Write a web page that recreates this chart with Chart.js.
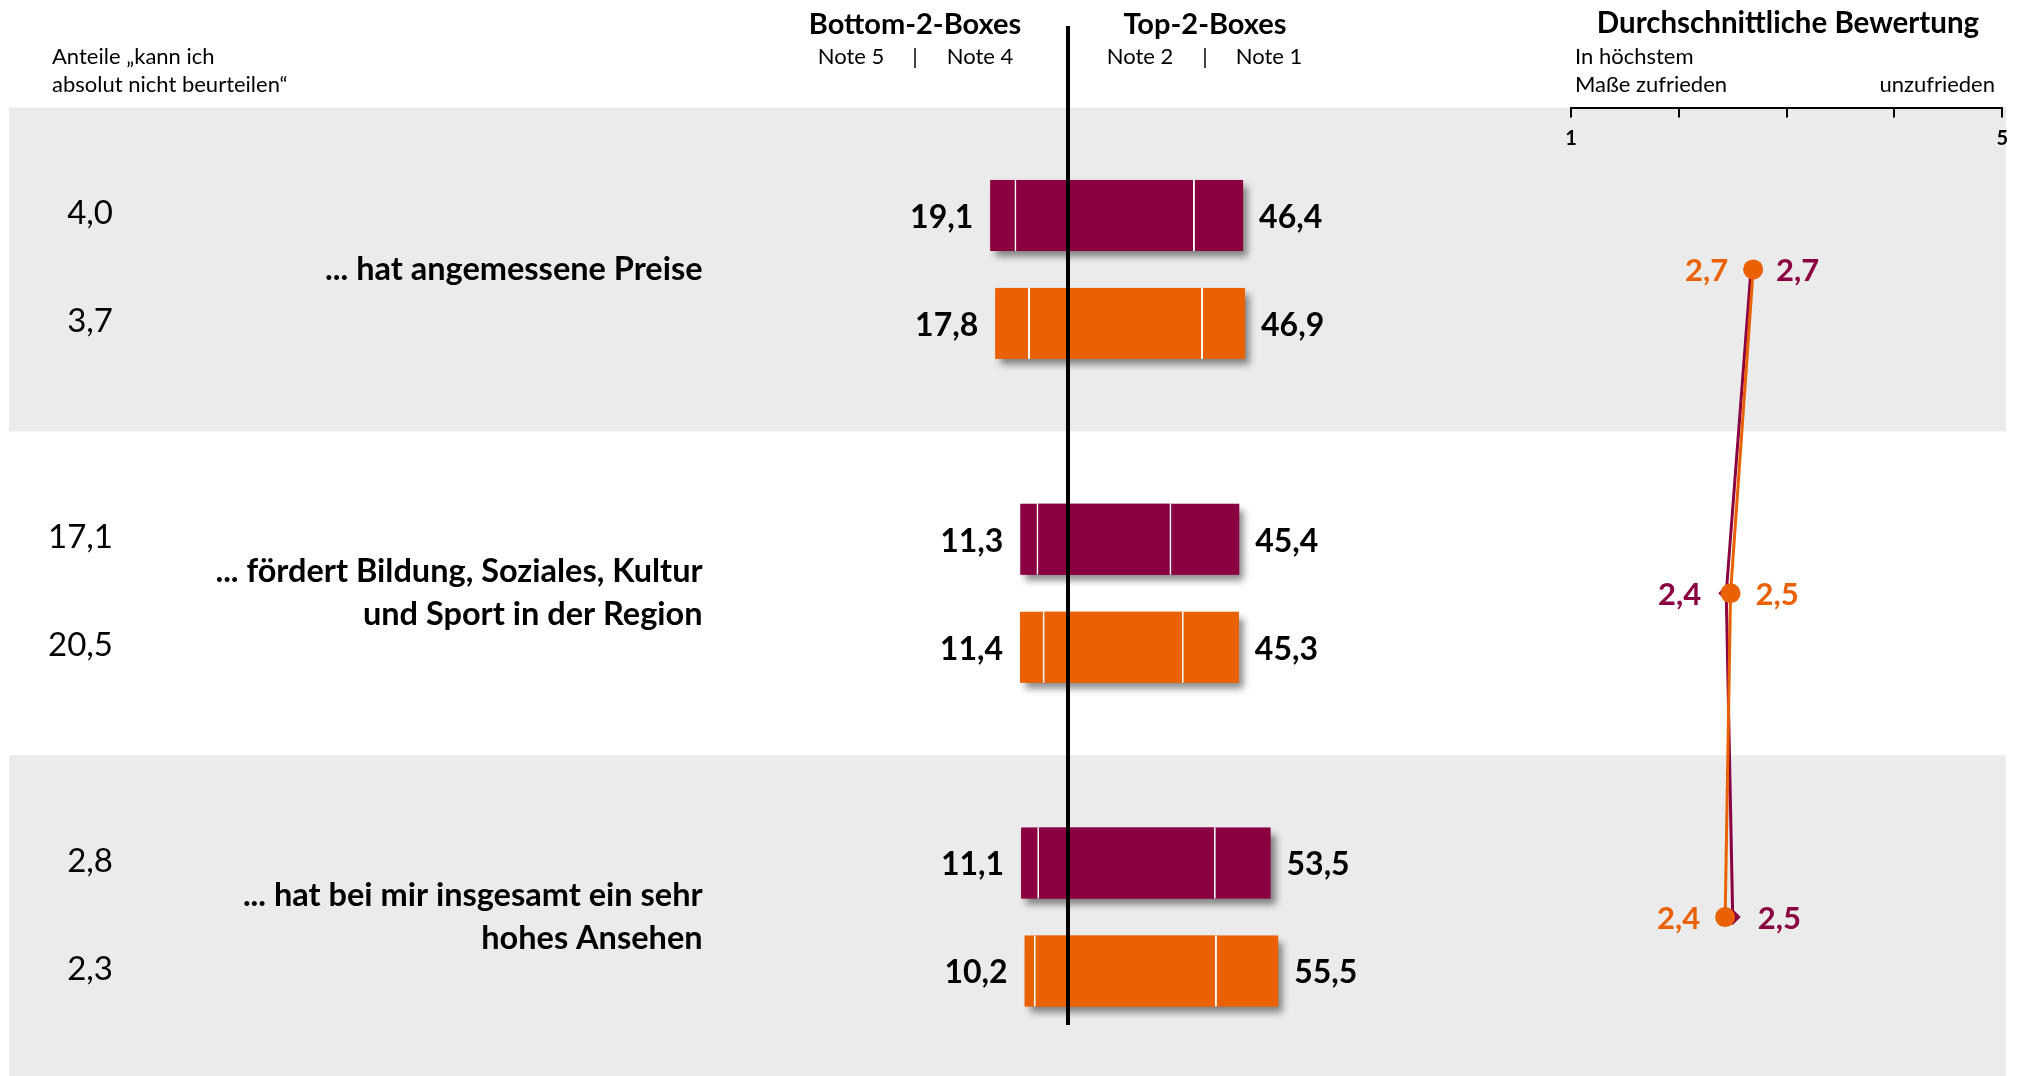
<!DOCTYPE html>
<html>
<head>
<meta charset="utf-8">
<script src="https://cdn.jsdelivr.net/npm/chart.js@4.4.1/dist/chart.umd.min.js"></script>
<style>
  html, body { margin: 0; padding: 0; background: #fff; overflow: hidden; }
  body { width: 2027px; height: 1076px; position: relative; font-family: Lato, sans-serif; color: #000; }
  .wrap { position: absolute; left: 0; top: 0; width: 2027px; height: 1080px; }
  .t { position: absolute; white-space: nowrap; line-height: 1; }
  .c { transform: translate(-50%, -50%); }
  .l { transform: translate(0, -50%); }
  .r { transform: translate(-100%, -50%); }
  .h { font-weight: bold; font-size: 29px; }
  .s { font-size: 22px; }
  #zeroLine { position: absolute; left: 1066px; top: 26px; width: 4px; height: 999px; background: #000; }
</style>
</head>
<body>
<div class="wrap"><canvas id="bars"></canvas></div>
<div id="zeroLine"></div>
<div class="wrap"><canvas id="rating"></canvas></div>

<div class="t l s" style="left:52px;top:56px">Anteile „kann ich</div>
<div class="t l s" style="left:52px;top:84px">absolut nicht beurteilen“</div>

<div class="t c h" style="left:915px;top:22px">Bottom-2-Boxes</div>
<div class="t c s" style="left:851px;top:56px">Note 5</div>
<div class="t c s" style="left:915px;top:56px">|</div>
<div class="t c s" style="left:980px;top:56px">Note 4</div>

<div class="t c h" style="left:1205px;top:22px">Top-2-Boxes</div>
<div class="t c s" style="left:1140px;top:56px">Note 2</div>
<div class="t c s" style="left:1205px;top:56px">|</div>
<div class="t c s" style="left:1269px;top:56px">Note 1</div>

<div class="t c h" style="left:1788px;top:22px;font-size:29.5px">Durchschnittliche Bewertung</div>
<div class="t l s" style="left:1575px;top:56px">In höchstem</div>
<div class="t l s" style="left:1575px;top:84px">Maße zufrieden</div>
<div class="t r s" style="left:1995px;top:84px">unzufrieden</div>

<script>
// statements (y categories)
var statements = [
  ['... hat angemessene Preise'],
  ['... fördert Bildung, Soziales, Kultur', 'und Sport in der Region'],
  ['... hat bei mir insgesamt ein sehr', 'hohes Ansehen']
];

// share "kann ich absolut nicht beurteilen" - purple row / orange row
var cannotJudgeA = [4.0, 17.1, 2.8];
var cannotJudgeB = [3.7, 20.5, 2.3];

// grade shares, purple series
var note5A = [6.8, 4.7, 4.7];
var note4A = [12.3, 6.6, 6.4];
var note2A = [33.4, 27.3, 38.8];
var note1A = [13.0, 18.1, 14.7];
// grade shares, orange series
var note5B = [9.0, 6.4, 2.9];
var note4B = [8.8, 5.0, 7.3];
var note2B = [35.5, 30.5, 39.1];
var note1B = [11.4, 14.8, 16.4];

// average rating (1 = best, 5 = worst)
var meanA = [2.67, 2.44, 2.50];
var meanB = [2.69, 2.48, 2.43];
var ratingTicks = ['1', '', '', '', '5'];
var labelSideA = ['right', 'left', 'right'];
var labelSideB = ['left', 'right', 'left'];

var purple = '#8A0041';
var orange = '#E96100';
var band = '#EBEBEB';

function fmt(v) {
  return v.toFixed(1).replace('.', ',');
}

function seg(data, color, stack, neg, border) {
  return {
    data: data.map(function(v) { return neg ? -v : v; }),
    backgroundColor: color,
    borderColor: '#fff',
    borderWidth: border,
    borderSkipped: false,
    stack: stack
  };
}

// grey bands behind every other statement
var bandsPlugin = {
  id: 'bands',
  beforeDraw: function(chart) {
    var y = chart.scales.y, ctx = chart.ctx;
    var half = (y.getPixelForValue(1) - y.getPixelForValue(0)) / 2;
    ctx.save();
    ctx.fillStyle = band;
    statements.forEach(function(s, i) {
      if (i % 2) return;
      var c = y.getPixelForValue(i);
      ctx.fillRect(9, c - half, 1997, 2 * half);
    });
    ctx.restore();
  }
};

// drop shadow under each full bar
var shadowPlugin = {
  id: 'barShadow',
  beforeDatasetsDraw: function(chart) {
    var ctx = chart.ctx;
    ctx.save();
    ctx.shadowColor = 'rgba(0,0,0,0.45)';
    ctx.shadowBlur = 7;
    ctx.shadowOffsetX = 5;
    ctx.shadowOffsetY = 6;
    [[1, 3], [5, 7]].forEach(function(p) {
      var lefts = chart.getDatasetMeta(p[0]).data;
      var rights = chart.getDatasetMeta(p[1]).data;
      ctx.fillStyle = chart.data.datasets[p[0]].backgroundColor;
      lefts.forEach(function(el, i) {
        ctx.fillRect(el.x, el.y - el.height / 2, rights[i].x - el.x, el.height);
      });
    });
    ctx.restore();
  }
};

// bottom-2 / top-2 sums and the "cannot judge" column
var barLabelPlugin = {
  id: 'barLabels',
  afterDatasetsDraw: function(chart) {
    var ctx = chart.ctx;
    var groups = [
      { l: 1, r: 3, n5: note5A, n4: note4A, n2: note2A, n1: note1A, cj: cannotJudgeA },
      { l: 5, r: 7, n5: note5B, n4: note4B, n2: note2B, n1: note1B, cj: cannotJudgeB }
    ];
    ctx.save();
    ctx.fillStyle = '#000';
    ctx.textBaseline = 'middle';
    groups.forEach(function(g) {
      var lefts = chart.getDatasetMeta(g.l).data;
      var rights = chart.getDatasetMeta(g.r).data;
      lefts.forEach(function(el, i) {
        ctx.font = 'bold 32px Lato';
        ctx.textAlign = 'right';
        ctx.fillText(fmt(g.n5[i] + g.n4[i]), el.x - 17, el.y + 2);
        ctx.textAlign = 'left';
        ctx.fillText(fmt(g.n2[i] + g.n1[i]), rights[i].x + 16, el.y + 2);
        ctx.font = '33px Lato';
        ctx.textAlign = 'right';
        ctx.fillText(fmt(g.cj[i]), 113, el.y - 2);
      });
    });
    ctx.restore();
  }
};

new Chart(document.getElementById('bars'), {
  type: 'bar',
  data: {
    labels: statements,
    datasets: [
      seg(note4A, purple, 'a', true, 0),
      seg(note5A, purple, 'a', true, { right: 2 }),
      seg(note2A, purple, 'a', false, 0),
      seg(note1A, purple, 'a', false, { left: 2 }),
      seg(note4B, orange, 'b', true, 0),
      seg(note5B, orange, 'b', true, { right: 2 }),
      seg(note2B, orange, 'b', false, 0),
      seg(note1B, orange, 'b', false, { left: 2 })
    ]
  },
  options: {
    indexAxis: 'y',
    responsive: true,
    maintainAspectRatio: false,
    animation: false,
    layout: { padding: { left: 0, right: 615.6, top: 107.5, bottom: 1 } },
    datasets: { bar: { categoryPercentage: 0.667, barPercentage: 0.657 } },
    plugins: { legend: { display: false }, tooltip: { enabled: false } },
    scales: {
      x: { stacked: true, min: -90, max: 90, display: false },
      y: {
        grid: { display: false },
        border: { display: false },
        ticks: {
          color: '#000',
          padding: 6,
          font: { family: 'Lato', weight: 'bold', size: 32.5, lineHeight: 1.33 }
        },
        afterFit: function(s) {
          s.width = 716.6;
          s.paddingTop = 0;
          s.paddingBottom = 0;
        }
      }
    }
  },
  plugins: [bandsPlugin, shadowPlugin, barLabelPlugin]
});

// value labels next to the rating points
var pointLabelPlugin = {
  id: 'pointLabels',
  afterDatasetsDraw: function(chart) {
    var ctx = chart.ctx;
    var sides = [labelSideB, labelSideA];
    ctx.save();
    ctx.font = 'bold 31px Lato';
    ctx.textBaseline = 'middle';
    chart.data.datasets.forEach(function(ds, d) {
      chart.getDatasetMeta(d).data.forEach(function(pt, i) {
        var left = sides[d][i] === 'left';
        ctx.fillStyle = ds.borderColor;
        ctx.textAlign = left ? 'right' : 'left';
        ctx.fillText(fmt(ds.data[i]), pt.x + (left ? -25 : 25), pt.y + 2);
      });
    });
    ctx.restore();
  }
};

new Chart(document.getElementById('rating'), {
  type: 'line',
  data: {
    labels: statements,
    datasets: [
      { data: meanB, borderColor: orange, backgroundColor: orange, borderWidth: 3,
        pointStyle: 'circle', pointRadius: 10, pointBorderWidth: 0, order: 0 },
      { data: meanA, borderColor: purple, backgroundColor: purple, borderWidth: 3,
        pointStyle: 'rectRot', pointRadius: 8, pointBorderWidth: 0, order: 1 }
    ]
  },
  options: {
    indexAxis: 'y',
    responsive: true,
    maintainAspectRatio: false,
    animation: false,
    layout: { autoPadding: false, padding: { left: 1571, right: 24, top: 107.5, bottom: 1 } },
    plugins: { legend: { display: false }, tooltip: { enabled: false } },
    scales: {
      x: {
        type: 'linear',
        position: 'top',
        min: 1,
        max: 5,
        ticks: {
          stepSize: 1,
          autoSkip: false,
          maxRotation: 0,
          mirror: true,
          padding: 19,
          color: '#000',
          font: { family: 'Lato', weight: 'bold', size: 20 },
          callback: function(v, i) { return ratingTicks[i]; }
        },
        grid: { drawOnChartArea: false, drawTicks: true, tickLength: -10, color: '#000', lineWidth: 2 },
        border: { display: true, color: '#000', width: 2 },
        afterFit: function(s) { s.height = 0; }
      },
      y: { display: false, offset: true }
    }
  },
  plugins: [pointLabelPlugin]
});
</script>
</body>
</html>
